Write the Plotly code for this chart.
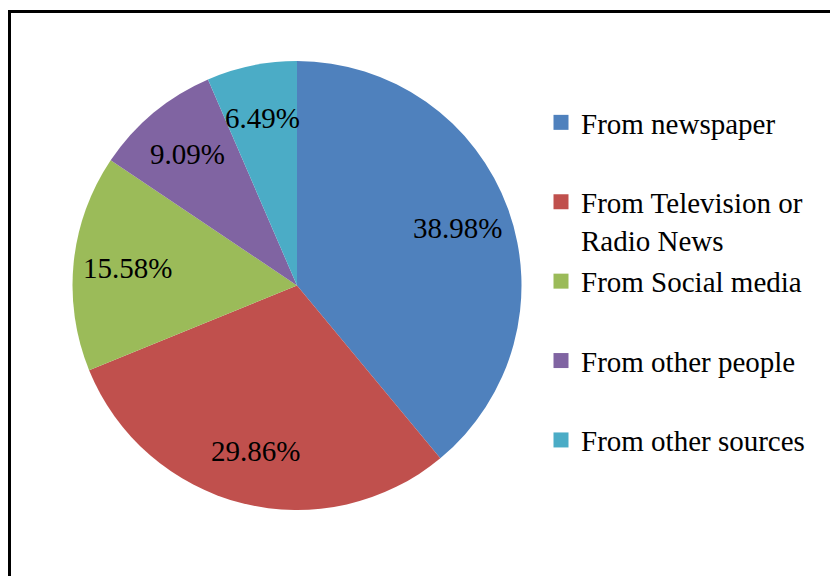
import math
import plotly.graph_objects as go

categories = ["From newspaper", "From Television or<br>Radio News", "From Social media",
              "From other people", "From other sources"]
values = [38.98, 29.86, 15.58, 9.09, 6.49]
colors = ["#4F81BD", "#C0504D", "#9BBB59", "#8064A2", "#4BACC6"]

W, H = 830, 576
cx, cy, R = 297, 285.5, 224.5
FONT = "Times New Roman, Liberation Serif, serif"
FS = 29
LABEL_R = 0.76  # label distance as fraction of radius

fig = go.Figure()
fig.add_trace(go.Pie(
    labels=categories,
    values=values,
    sort=False,
    direction="clockwise",
    rotation=0,
    marker=dict(colors=colors, line=dict(width=0)),
    textinfo="none",
    showlegend=False,
    domain=dict(x=[(cx - R) / W, (cx + R) / W],
                y=[(H - cy - R) / H, (H - cy + R) / H]),
    hoverinfo="label+percent",
))

# legend entries (one group each so they can be evenly spaced)
for i, (cat, col) in enumerate(zip(categories, colors)):
    name = cat if "<br>" in cat else cat + "<br> "
    fig.add_trace(go.Scatter(
        x=[None], y=[None], mode="markers", name=name,
        marker=dict(symbol="square", size=15, color=col),
        legendgroup=f"g{i}", showlegend=True, hoverinfo="skip",
    ))

# percentage labels placed at mid-angle of each slice
total = sum(values)
annotations = []
cum = 0.0
for v in values:
    mid = (cum + v / 2) / total * 2 * math.pi
    cum += v
    px = cx + LABEL_R * R * math.sin(mid)
    py = cy - LABEL_R * R * math.cos(mid)
    annotations.append(dict(
        x=px / W, y=1 - py / H, xref="paper", yref="paper",
        text=f"{v / total * 100:.2f}%", showarrow=False,
        xanchor="center", yanchor="middle",
        font=dict(family=FONT, size=FS, color="black"),
    ))

fig.update_layout(
    width=W, height=H,
    margin=dict(l=0, r=0, t=0, b=0),
    paper_bgcolor="white", plot_bgcolor="white",
    xaxis=dict(visible=False), yaxis=dict(visible=False),
    font=dict(family=FONT, size=FS, color="black"),
    annotations=annotations,
    legend=dict(x=541 / W, y=1 - 97 / H, xanchor="left", yanchor="top",
                valign="top", itemwidth=30, bgcolor="rgba(0,0,0,0)",
                tracegroupgap=1,
                font=dict(family=FONT, size=FS, color="black")),
    shapes=[dict(type="rect", xref="paper", yref="paper",
                 x0=9.5 / W, x1=1.2, y0=-0.2, y1=1 - 11.5 / H,
                 line=dict(color="black", width=3))],
)

fig.write_html("out.html")
